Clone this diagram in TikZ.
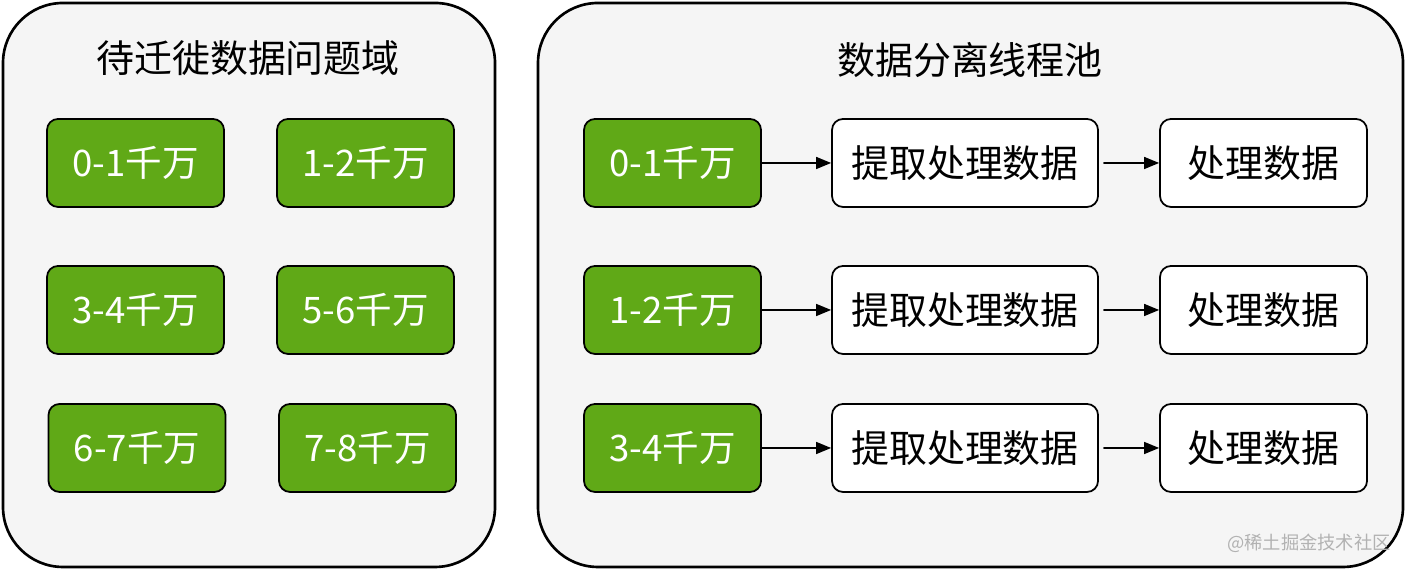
\documentclass[tikz,border=0pt]{standalone}
\usepackage{fontspec}
\setmainfont{Noto Sans CJK SC}
\usepackage{tikz}
\usetikzlibrary{arrows.meta}
\usepackage{xcolor}
\definecolor{rangegreen}{HTML}{60A917}
\definecolor{panelgray}{HTML}{F5F5F5}

\begin{document}
\begin{tikzpicture}[>={Triangle[length=1.5mm,width=1.2mm]},line cap=round,
  font=\fontsize{10.8}{13}\selectfont,
  panel/.style={draw,line width=0.75pt,fill=panelgray,rounded corners=0.6cm,inner sep=0pt},
  rangebox/.style={draw,line width=0.5pt,fill=rangegreen,text=white,rounded corners=0.11cm,
    minimum width=1.77cm,minimum height=0.88cm,inner sep=0pt,font=\fontsize{10.4}{12}\selectfont},
  workbox/.style={draw,line width=0.5pt,fill=white,rounded corners=0.11cm,
    minimum height=0.88cm,inner sep=0pt}]
\useasboundingbox (0,0) rectangle (14.06,5.70);
\node[panel,minimum width=4.92cm,minimum height=5.64cm] (domain) at (2.49,2.85) {};
\node[panel,minimum width=8.65cm,minimum height=5.64cm] (pool) at (9.705,2.85) {};
\node (domaintitle) at (2.48,5.12) {待迁徙数据问题域};
\node (pooltitle) at (9.70,5.10) {数据分离线程池};
% left side
\node[rangebox] (d01) at (1.355,4.07) {0-1千万};
\node[rangebox] (d12) at (3.655,4.07) {1-2千万};
\node[rangebox] (d34) at (1.355,2.60) {3-4千万};
\node[rangebox] (d56) at (3.655,2.60) {5-6千万};
\node[rangebox] (d67) at (1.37,1.22) {6-7千万};
\node[rangebox] (d78) at (3.675,1.22) {7-8千万};
% right side
\node[rangebox] (p01) at (6.725,4.07) {0-1千万};
\node[rangebox] (p12) at (6.725,2.60) {1-2千万};
\node[rangebox] (p34) at (6.725,1.22) {3-4千万};
\node[workbox,minimum width=2.66cm] (fetcha) at (9.65,4.07) {提取处理数据};
\node[workbox,minimum width=2.66cm] (fetchb) at (9.65,2.60) {提取处理数据};
\node[workbox,minimum width=2.66cm] (fetchc) at (9.65,1.22) {提取处理数据};
\node[workbox,minimum width=2.07cm] (handlea) at (12.635,4.07) {处理数据};
\node[workbox,minimum width=2.07cm] (handleb) at (12.635,2.60) {处理数据};
\node[workbox,minimum width=2.07cm] (handlec) at (12.635,1.22) {处理数据};
\draw[->,line width=0.4pt] (p01) -- (fetcha);
\draw[->,line width=0.4pt] (p12) -- (fetchb);
\draw[->,line width=0.4pt] (p34) -- (fetchc);
\draw[->,line width=0.4pt] ([xshift=0.05cm]fetcha.east) -- (handlea);
\draw[->,line width=0.4pt] ([xshift=0.05cm]fetchb.east) -- (handleb);
\draw[->,line width=0.4pt] ([xshift=0.05cm]fetchc.east) -- (handlec);
\node[text=black!30,font=\fontsize{5.2}{6}\selectfont] (mark) at (13.09,0.27) {@稀土掘金技术社区};
\end{tikzpicture}
\end{document}
